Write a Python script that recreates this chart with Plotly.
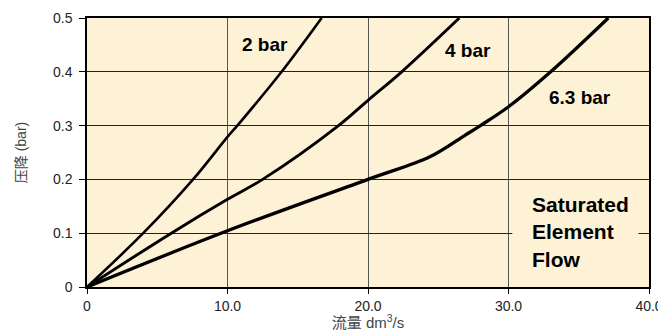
import plotly.graph_objects as go

# values
flow_2bar = [0, 4.0, 7.55, 10.0, 10.7, 13.85, 16.7]
drop_2bar = [0, 0.1, 0.2, 0.279, 0.3, 0.4, 0.5]

flow_4bar = [0, 6.0, 10.0, 12.5, 17.9, 20.0, 22.4, 26.5]
drop_4bar = [0, 0.1, 0.163, 0.2, 0.3, 0.347, 0.4, 0.5]

flow_63bar = [0, 10.0, 20.0, 24.4, 26.9, 28.0, 30.0, 33.0, 37.1]
drop_63bar = [0, 0.1045, 0.2, 0.242, 0.282, 0.3, 0.335, 0.4, 0.5]

x_ticks = [0, 10, 20, 30, 40]
x_ticktext = ['0', '10.0', '20.0', '30.0', '40.0']
y_ticks = [0, 0.1, 0.2, 0.3, 0.4, 0.5]
y_ticktext = ['0', '0.1', '0.2', '0.3', '0.4', '0.5']

bg = '#fdf1d6'
font = 'Liberation Sans, Arial, Noto Sans CJK SC, sans-serif'

fig = go.Figure()
for xs, ys, w in [(flow_2bar, drop_2bar, 2.6), (flow_4bar, drop_4bar, 2.9), (flow_63bar, drop_63bar, 3.3)]:
    fig.add_trace(go.Scatter(x=xs, y=ys, mode='lines', line=dict(color='black', width=w, shape='spline', smoothing=1.0),
                             showlegend=False, hoverinfo='skip'))

labels = [('2 bar', 12.7, 0.451), ('4 bar', 27.1, 0.44), ('6.3 bar', 35.1, 0.353)]
for txt, lx, ly in labels:
    fig.add_annotation(x=lx, y=ly, text=txt, showarrow=False, xanchor='center', yanchor='middle',
                       font=dict(family=font, size=19, color='black', weight='bold'))

# gap in the 0.1 gridline behind the note
fig.add_shape(type='rect', x0=30.27, x1=39.25, y0=0.092, y1=0.108, fillcolor=bg, line_width=0, layer='between')
fig.add_annotation(x=31.55, y=0.102, text='Saturated<br>Element<br>Flow', showarrow=False, xanchor='left', yanchor='middle',
                   align='left', font=dict(family=font, size=21, color='black', weight='bold'))

fig.update_xaxes(range=[0, 40], tickvals=x_ticks, ticktext=x_ticktext, showgrid=True, gridcolor='#555', gridwidth=1,
                 showline=True, linecolor='black', linewidth=1.5, mirror=True, ticks='outside', ticklen=5,
                 tickcolor='black', zeroline=False, automargin=False,
                 title=dict(text='流量 dm<sup>3</sup>/s', standoff=5, font=dict(family=font, size=15, color='#444')),
                 tickfont=dict(family=font, size=14, color='#222'))
fig.update_yaxes(range=[0, 0.5], tickvals=y_ticks, ticktext=y_ticktext, showgrid=True, gridcolor='#222', gridwidth=1.3,
                 showline=True, linecolor='black', linewidth=1.5, mirror=True, ticks='outside', ticklen=6,
                 ticklabelstandoff=4, tickcolor='black', zeroline=False, automargin=False,
                 title=dict(text='压降 (bar)', standoff=23, font=dict(family=font, size=14, color='#444')),
                 tickfont=dict(family=font, size=14, color='#222'))

# the page adds an 8px body margin, so the figure is 8px smaller than the window
fig.update_layout(width=658, height=323, margin=dict(l=79, r=17, t=10, b=44),
                  plot_bgcolor=bg, paper_bgcolor='white', font=dict(family=font))

fig.write_html('out.html')
